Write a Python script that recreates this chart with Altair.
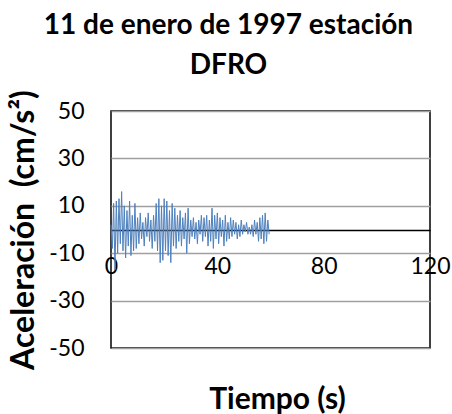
import altair as alt
import pandas as pd

title_lines = ["11 de enero de 1997 estación", "DFRO"]
x_title = "Tiempo (s)"
y_title = "Aceleración\u00a0\u00a0(cm/s²)"
x_ticks = [0, 40, 80, 120]
y_ticks = [-50, -30, -10, 10, 30, 50]
dt = 0.5
accel = [
    2, -8, 11, -17, 12, -10, 13, -6, 16, -9, 10, -12, 8, -7, 12, -11, 6, -9, 11, -8,
    5, -6, 7, -4, 3, -7, 5, -3, 7, -5, 4, -8, 6, -5,
    11, -9, 13, -14, 10, -13, 13, -9, 12, -11, 8, -14, 11, -7, 9, -8,
    6, -5, 8, -7, 5, -4, 7, -10, 9, -6, 4, -3, 5, -4, 3, -6, 4, -2, 6, -5,
    5, -3, 6, -7, 4, -5, 9, -8, 6, -4, 7, -6, 5, -3, 4, -7, 6, -5, 3, -4,
    5, -3, 4, -2, 3, -4, 2, -3, 4, -2,
    2, -1, 3, -2, 1, -2, 2, -3, 4, -2, 3, -5, 5, -4, 6, -6, 7, -5, 4, -2,
]

df = pd.DataFrame({"t": [i * dt for i in range(len(accel))], "a": accel})

FONT = "Lato"

line = alt.Chart(df).mark_line(color="#4F81BD", strokeWidth=1).encode(
    x=alt.X(
        "t:Q",
        scale=alt.Scale(domain=[0, 120], nice=False),
        axis=alt.Axis(
            values=x_ticks,
            title=x_title,
            offset=-118,
            grid=False,
            ticks=False,
            domainColor="black",
            domainWidth=1.5,
            labelPadding=25,
            labelFontSize=23,
            labelFont=FONT,
            labelColor="black",
            labelFlush=False,
            labelExpr="'' + datum.value",
            titleFont=FONT,
            titleFontSize=30,
            titleFontWeight="bold",
            titleColor="black",
            titlePadding=106,
            titleX=166,
        ),
    ),
    y=alt.Y(
        "a:Q",
        scale=alt.Scale(domain=[-50, 50], nice=False),
        axis=alt.Axis(
            values=y_ticks,
            title=y_title,
            grid=True,
            gridColor="#A0A0A0",
            gridWidth=1.5,
            ticks=False,
            domain=False,
            labelPadding=27,
            labelFontSize=23,
            labelFont=FONT,
            labelColor="black",
            labelExpr="'' + datum.value",
            titleFont=FONT,
            titleFontSize=32,
            titleFontWeight="bold",
            titleColor="black",
            titlePadding=8,
        ),
    ),
)

chart = line.properties(
    width=319,
    height=237,
    title=alt.TitleParams(
        text=title_lines,
        font=FONT,
        fontSize=28,
        fontWeight="bold",
        color="black",
        anchor="middle",
        dx=-42,
        offset=10,
        lineHeight=40,
    ),
    autosize=alt.AutoSizeParams(type="none"),
    padding={"left": 111, "top": 111, "right": 22, "bottom": 66},
).configure_view(stroke="black", strokeWidth=1.5)

chart.save("out.html", embed_options={"renderer": "svg", "actions": False})
